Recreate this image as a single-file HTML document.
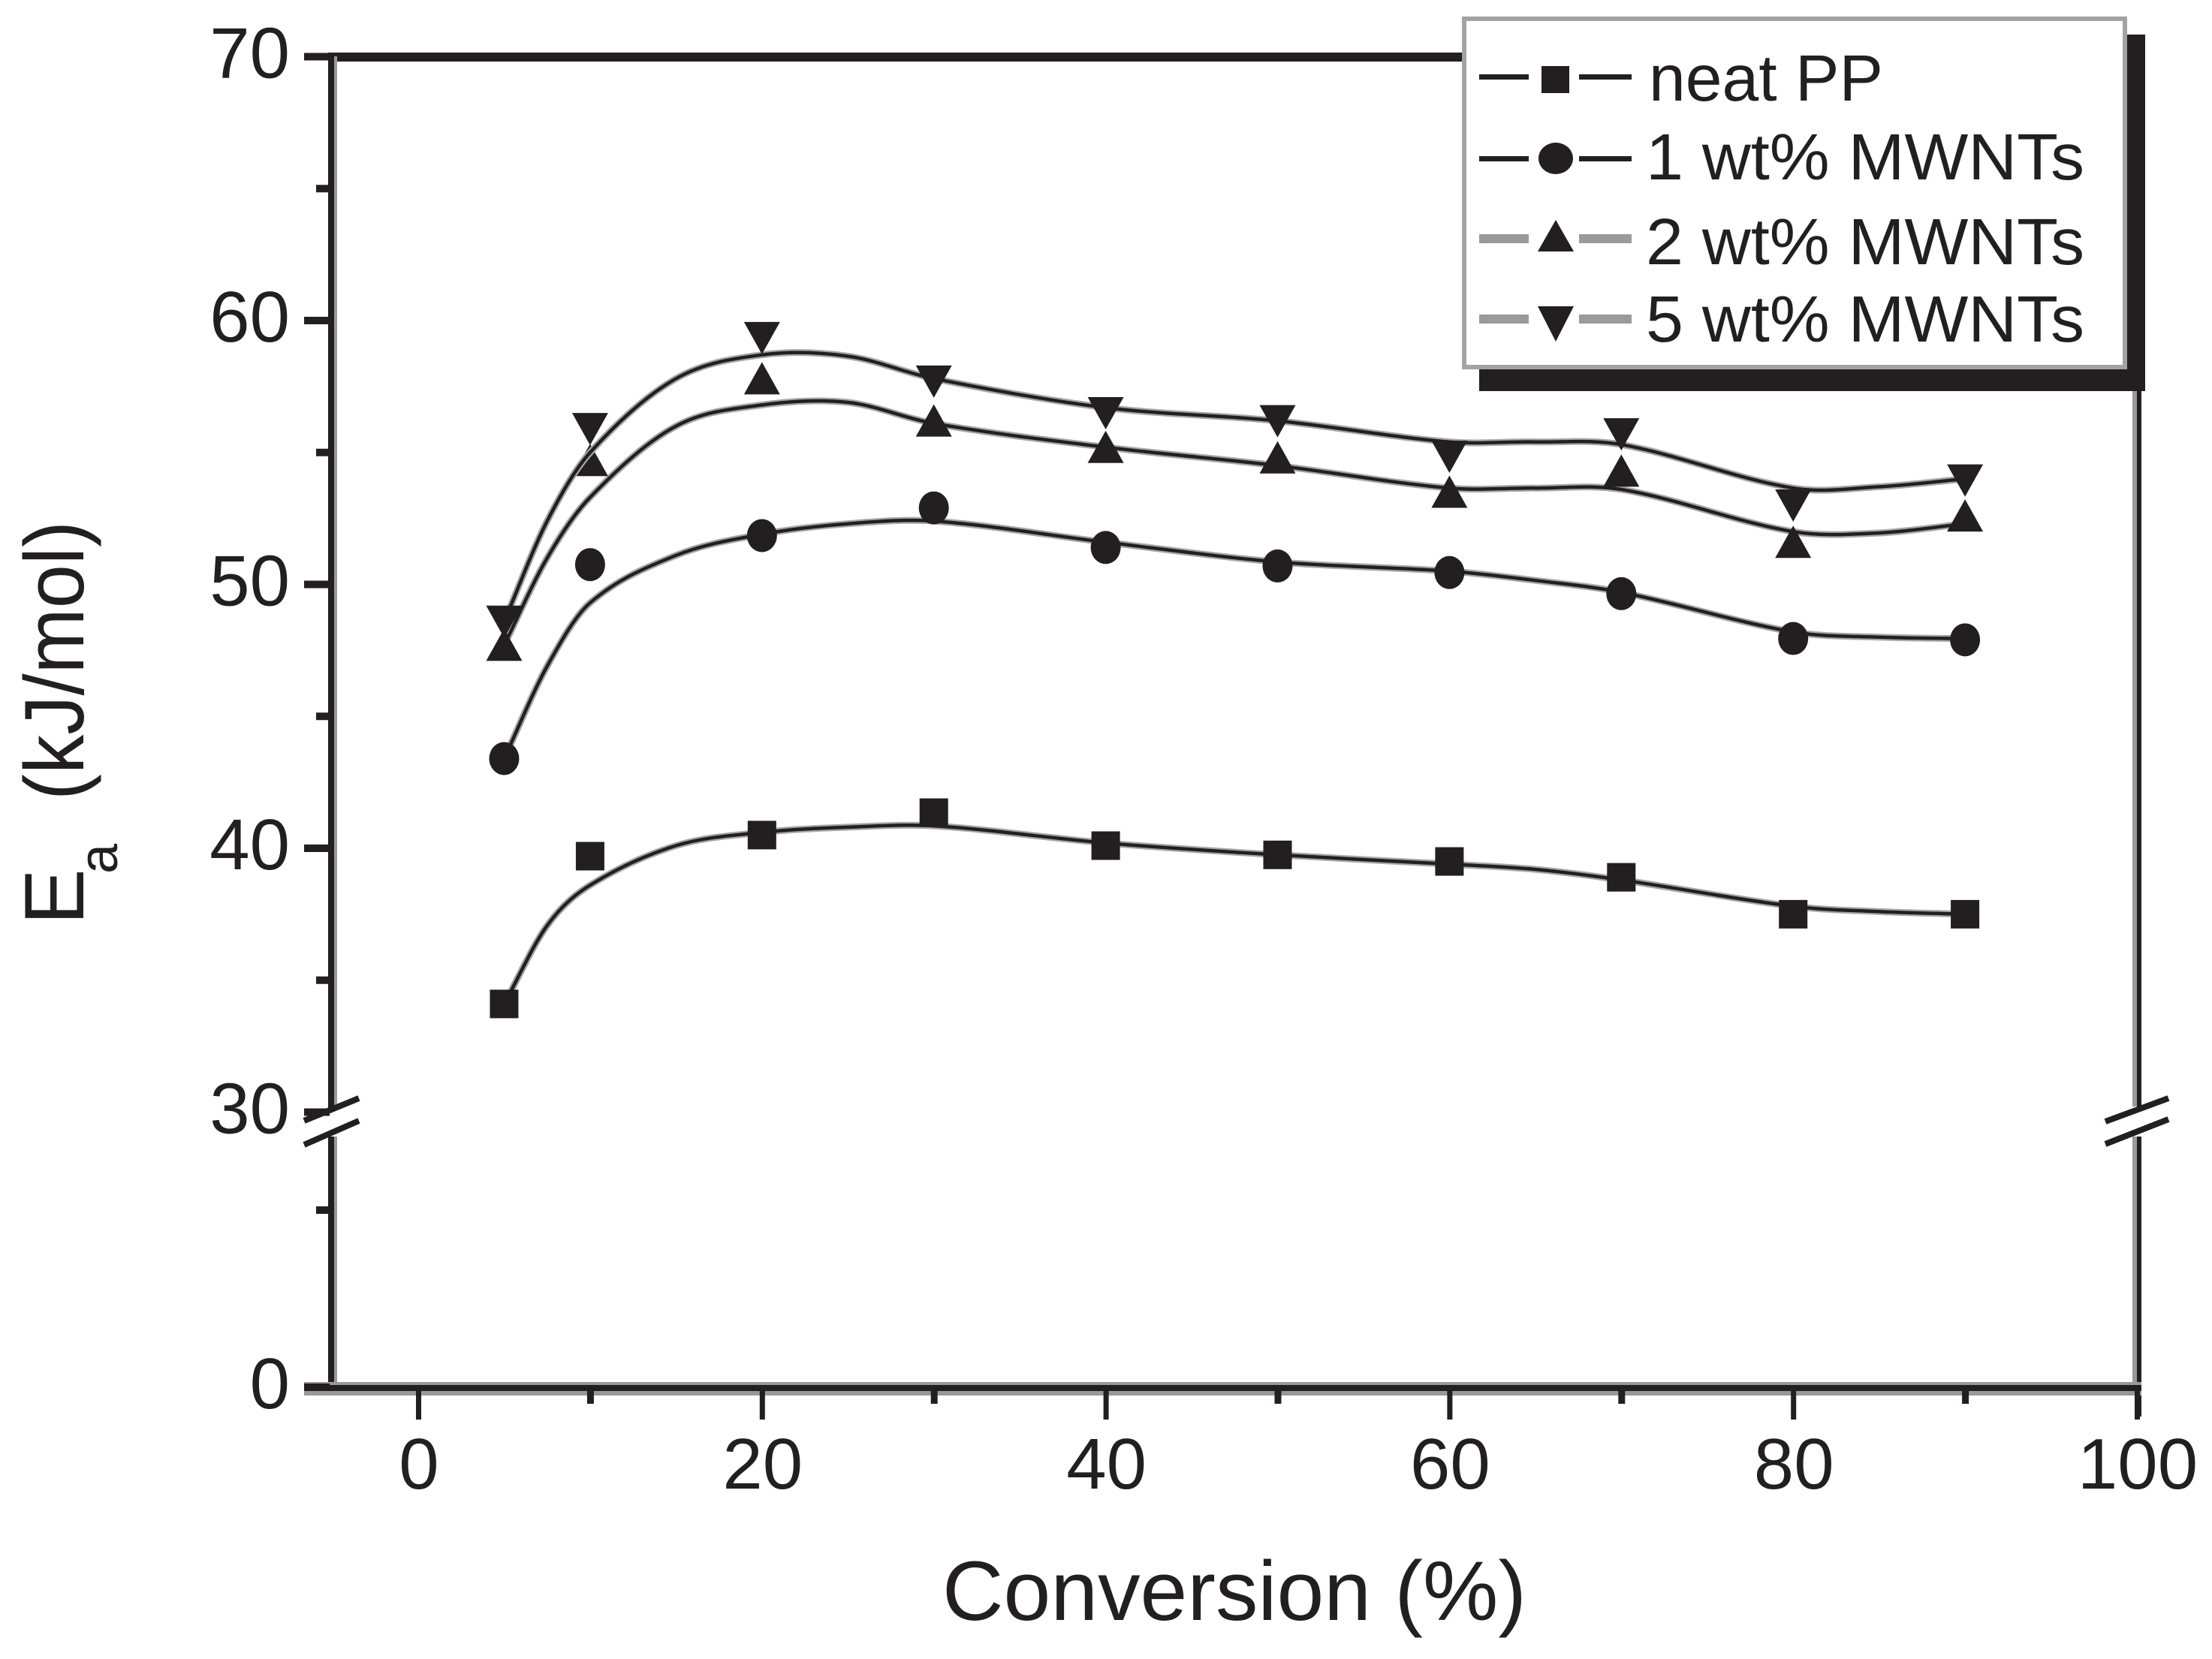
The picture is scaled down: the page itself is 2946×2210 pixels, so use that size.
<!DOCTYPE html>
<html lang="en">
<head>
<meta charset="utf-8">
<title>Activation energy versus conversion</title>
<style>
html,body{margin:0;padding:0;background:#fff;width:2946px;height:2210px;overflow:hidden}
svg{display:block;position:absolute;left:0;top:0}
text{font-family:"Liberation Sans",Arial,sans-serif;fill:#231f20}
</style>
</head>
<body>
<svg id="chart" xmlns="http://www.w3.org/2000/svg" width="2946" height="2210" viewBox="0 0 2946 2210">
  <rect x="0" y="0" width="2946" height="2210" fill="#ffffff"/>
  <g id="axes">
    <rect x="437" y="70" width="1512" height="12" fill="#231f20"/>
    <rect x="444" y="75" width="5" height="1402" fill="#999999"/>
    <rect x="437" y="75" width="8" height="1402" fill="#231f20"/>
    <rect x="444" y="1514" width="5" height="334" fill="#999999"/>
    <rect x="437" y="1514" width="8" height="334" fill="#231f20"/>
    <rect x="2840" y="500" width="7" height="974" fill="#999999"/>
    <rect x="2846" y="500" width="6" height="974" fill="#231f20"/>
    <rect x="2840" y="1514" width="7" height="334" fill="#999999"/>
    <rect x="2846" y="1514" width="6" height="373" fill="#231f20"/>
    <rect x="405" y="1841" width="2447" height="18" fill="#999999"/>
    <rect x="405" y="1845" width="2447" height="8" fill="#231f20"/>
    <g stroke="#231f20" stroke-width="8" fill="none">
      <line x1="405" y1="1493" x2="478" y2="1463"/>
      <line x1="405" y1="1525" x2="478" y2="1493"/>
    </g>
    <g stroke="#231f20" stroke-width="8" fill="none">
      <line x1="2804" y1="1494" x2="2888" y2="1463"/>
      <line x1="2804" y1="1524" x2="2888" y2="1491"/>
    </g>
  </g>
  <g id="ticks"></g>
  <g id="series"></g>

  <text x="1255" y="2158" font-size="112" textLength="778" lengthAdjust="spacingAndGlyphs">Conversion (%)</text>
  <g>
    <text transform="translate(111 1232) rotate(-90)" font-size="112">E</text>
    <text transform="translate(156 1164) rotate(-90)" font-size="72">a</text>
    <text transform="translate(111 1066) rotate(-90)" font-size="112" textLength="372" lengthAdjust="spacingAndGlyphs">(kJ/mol)</text>
  </g>

  <g id="legend">
    <rect x="1970" y="46" width="887" height="475" fill="#231f20"/>
    <rect x="1950" y="25" width="880" height="464" fill="#ffffff" stroke="#a3a3a3" stroke-width="6"/>
    <g>
      <rect x="1970" y="99" width="66" height="7" fill="#231f20"/>
      <rect x="2103" y="99" width="70" height="7" fill="#231f20"/>
      <rect x="2053" y="88" width="37" height="36" fill="#231f20"/>
      <text x="2196" y="134" font-size="87" textLength="312" lengthAdjust="spacingAndGlyphs">neat PP</text>
    </g>
    <g>
      <rect x="1970" y="208" width="66" height="7" fill="#231f20"/>
      <rect x="2103" y="208" width="70" height="7" fill="#231f20"/>
      <ellipse cx="2072" cy="211" rx="23" ry="21" fill="#231f20"/>
      <text x="2192" y="239" font-size="87" textLength="584" lengthAdjust="spacingAndGlyphs">1 wt% MWNTs</text>
    </g>
    <g>
      <rect x="1970" y="312" width="66" height="12" fill="#9a9a9a"/>
      <rect x="2103" y="312" width="70" height="12" fill="#9a9a9a"/>
      <polygon points="2072,293 2096,335 2048,335" fill="#231f20"/>
      <text x="2192" y="352" font-size="87" textLength="584" lengthAdjust="spacingAndGlyphs">2 wt% MWNTs</text>
    </g>
    <g>
      <rect x="1970" y="419" width="66" height="12" fill="#9a9a9a"/>
      <rect x="2103" y="419" width="70" height="12" fill="#9a9a9a"/>
      <polygon points="2048,408 2096,408 2072,455" fill="#231f20"/>
      <text x="2192" y="455" font-size="87" textLength="584" lengthAdjust="spacingAndGlyphs">5 wt% MWNTs</text>
    </g>
  </g>
</svg>
<script>
// Measured points
const conversion = [5, 10, 20, 30, 40, 50, 60, 70, 80, 90];
const neatPP = [34.1, 39.7, 40.5, 41.35, 40.1, 39.75, 39.5, 38.9, 37.5, 37.5];
const mwnt1 = [43.4, 50.75, 51.85, 52.9, 51.4, 50.7, 50.45, 49.65, 47.95, 47.9];
const mwnt2 = [47.7, 54.7, 57.8, 56.2, 55.2, 54.8, 53.5, 54.3, 51.6, 52.6];
const mwnt5 = [48.6, 55.9, 59.35, 57.7, 56.5, 56.2, 54.85, 55.7, 53.0, 53.95];

// Smoothed curves
const fitConversion = [5, 7.5, 10, 15, 20, 25, 30, 40, 50, 60, 65, 70, 80, 85, 90];
const neatPPFit = [34.1, 37.07, 38.6, 40.1, 40.6, 40.8, 40.85, 40.2, 39.75, 39.4, 39.2, 38.8, 37.8, 37.6, 37.5];
const mwnt1Fit = [43.4, 46.9, 49.3, 51.1, 51.9, 52.3, 52.4, 51.6, 50.85, 50.5, 50.15, 49.7, 48.2, 48.0, 47.95];
const mwnt2Fit = [47.7, 51, 53.3, 56, 56.8, 56.9, 56.1, 55.2, 54.5, 53.65, 53.65, 53.6, 52, 51.95, 52.3];
const mwnt5Fit = [48.6, 52.4, 55, 57.8, 58.7, 58.65, 57.8, 56.7, 56.2, 55.4, 55.4, 55.3, 53.65, 53.7, 54];

// Axis ticks
const xMajorTicks = [0, 20, 40, 60, 80, 100];
const xMinorTicks = [10, 30, 50, 70, 90];
const yMajorTicks = [0, 30, 40, 50, 60, 70];
const yMinorTicks = [15, 35, 45, 55, 65];

const NS = 'http://www.w3.org/2000/svg';
const DARK = '#231f20';

function xScale(v) { return 557 + v * 22.89; }
function yScale(v) {
  if (v >= 30) return 75.5 + (70 - v) * 35.15;
  return 1848 - v * (236 / 15);
}
function make(tag, parent, attrs) {
  const el = document.createElementNS(NS, tag);
  for (const k in attrs) el.setAttribute(k, attrs[k]);
  parent.appendChild(el);
  return el;
}
function curvePath(xs, ys) {
  const p = xs.map((x, i) => [xScale(x), yScale(ys[i])]);
  const n = p.length;
  const slope = p.map(function (pt, i) {
    const a = p[Math.max(i - 1, 0)], b = p[Math.min(i + 1, n - 1)];
    return (b[1] - a[1]) / (b[0] - a[0]);
  });
  let d = 'M' + p[0][0].toFixed(1) + ' ' + p[0][1].toFixed(1);
  for (let i = 0; i < n - 1; i++) {
    const h = (p[i + 1][0] - p[i][0]) / 3;
    const nums = [p[i][0] + h, p[i][1] + slope[i] * h, p[i + 1][0] - h, p[i + 1][1] - slope[i + 1] * h, p[i + 1][0], p[i + 1][1]];
    d += 'C' + nums.map(v => v.toFixed(1)).join(' ');
  }
  return d;
}

const ticksGroup = document.getElementById('ticks');
xMajorTicks.forEach(function (v) {
  const t = make('rect', ticksGroup, { x: xScale(v) - 3, y: 1850, width: 7, height: 41, fill: DARK });
  
  
  const l = make('text', ticksGroup, { x: xScale(v) + 1, y: 1983, 'font-size': 96, 'text-anchor': 'middle' });
  l.textContent = String(v);
  
  
});
xMinorTicks.forEach(function (v) {
  const t = make('rect', ticksGroup, { x: xScale(v) - 4, y: 1850, width: 9, height: 20, fill: DARK });
  
  
});
yMajorTicks.forEach(function (v) {
  const y = yScale(v);
  const t = make('rect', ticksGroup, { x: 405, y: y - 5, width: 34, height: 10, fill: DARK });
  
  
  const l = make('text', ticksGroup, { x: 386, y: y + 28, 'font-size': 96, 'text-anchor': 'end' });
  l.textContent = String(v);
  
  
});
yMinorTicks.forEach(function (v) {
  const t = make('rect', ticksGroup, { x: 421, y: yScale(v) - 5, width: 18, height: 10, fill: DARK });
  
  
});

function markerAt(kind, parent, x, y) {
  let m;
  if (kind === 'square') {
    m = make('rect', parent, { x: x - 19, y: y - 19, width: 38, height: 38, fill: DARK });
  } else if (kind === 'circle') {
    m = make('ellipse', parent, { cx: x, cy: y, rx: 20, ry: 22, fill: DARK });
  } else if (kind === 'up') {
    m = make('polygon', parent, { points: x + ',' + (y - 22) + ' ' + (x + 24) + ',' + (y + 21) + ' ' + (x - 24) + ',' + (y + 21), fill: DARK });
  } else {
    m = make('polygon', parent, { points: (x - 24) + ',' + (y - 21) + ' ' + (x + 24) + ',' + (y - 21) + ' ' + x + ',' + (y + 22), fill: DARK });
  }
  return m;
}

const seriesGroup = document.getElementById('series');
function drawSeries(name, kind, points, fit) {
  const g = make('g', seriesGroup, {});
  
  
  const d = curvePath(fitConversion, fit);
  const halo = make('path', g, { d: d, fill: 'none', stroke: '#a6a6a6', 'stroke-width': 9 });
  
  
  const line = make('path', g, { d: d, fill: 'none', stroke: DARK, 'stroke-width': 4.5 });
  
  
  conversion.forEach(function (c, i) {
    const m = markerAt(kind, g, xScale(c), yScale(points[i]));
    
    
  });
}
drawSeries('neat-pp', 'square', neatPP, neatPPFit);
drawSeries('1-wt-mwnts', 'circle', mwnt1, mwnt1Fit);
drawSeries('2-wt-mwnts', 'up', mwnt2, mwnt2Fit);
drawSeries('5-wt-mwnts', 'down', mwnt5, mwnt5Fit);
</script>
</body>
</html>
